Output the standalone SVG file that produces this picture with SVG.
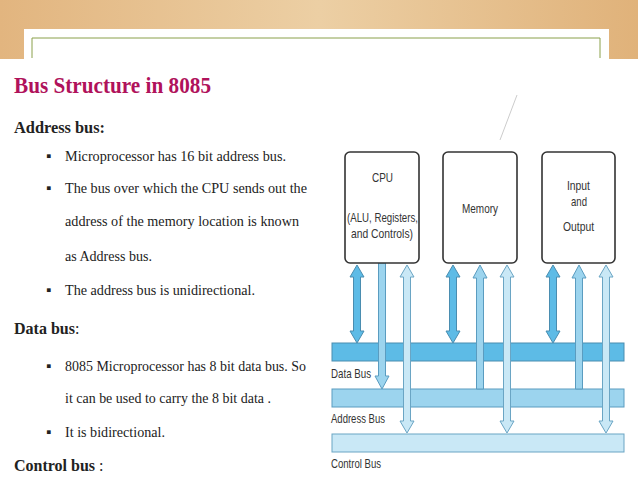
<svg xmlns="http://www.w3.org/2000/svg" width="638" height="478" viewBox="0 0 638 478">
<defs>
<linearGradient id="wood" x1="0" y1="0" x2="1" y2="0"><stop offset="0" stop-color="#e2b57f"/><stop offset="0.5" stop-color="#eccfa4"/><stop offset="1" stop-color="#e0b27a"/></linearGradient>
<style>
.t{font-family:"Liberation Serif",serif;font-size:15px;fill:#222}
.h{font-family:"Liberation Serif",serif;font-size:16px;font-weight:bold;fill:#222}
.s{font-family:"Liberation Sans",sans-serif;font-size:13.5px;fill:#333}
.box{fill:#fff;stroke:#333;stroke-width:1.6}
.dk{fill:#5dbbe6;stroke:#4a8db0;stroke-width:1}
.lt{fill:#c9e8f6;stroke:#6aa5c4;stroke-width:1}
.md{fill:#9cd4ee;stroke:#5a9cc0;stroke-width:1}
</style>
</defs>
<rect width="638" height="60" fill="url(#wood)"/>
<rect x="24" y="29" width="585" height="40" fill="#fff"/>
<path d="M32,58 V38 H600 V58" fill="none" stroke="#8aa04a" stroke-width="1"/>
<rect x="0" y="59" width="638" height="419" fill="#fff"/>
<text x="14" y="93" font-family="Liberation Serif,serif" font-size="24" font-weight="bold" fill="#b0125b" textLength="197" lengthAdjust="spacingAndGlyphs">Bus Structure in 8085</text>
<text class="h" x="14" y="133" textLength="91" lengthAdjust="spacingAndGlyphs">Address bus:</text>
<g class="t">
<text x="46" y="161">▪</text><text x="65" y="161" textLength="221" lengthAdjust="spacingAndGlyphs">Microprocessor has 16 bit address bus.</text>
<text x="46" y="193">▪</text><text x="65" y="193" textLength="242" lengthAdjust="spacingAndGlyphs">The bus over which the CPU sends out the</text>
<text x="65" y="226" textLength="234" lengthAdjust="spacingAndGlyphs">address of the memory location is known</text>
<text x="65" y="261" textLength="87" lengthAdjust="spacingAndGlyphs">as Address bus.</text>
<text x="46" y="295">▪</text><text x="65" y="295" textLength="190" lengthAdjust="spacingAndGlyphs">The address bus is unidirectional.</text>
<text x="46" y="371">▪</text><text x="65" y="371" textLength="241" lengthAdjust="spacingAndGlyphs">8085 Microprocessor has 8 bit data bus. So</text>
<text x="65" y="403" textLength="206" lengthAdjust="spacingAndGlyphs">it can be used to carry the 8 bit data .</text>
<text x="46" y="437">▪</text><text x="65" y="437" textLength="100" lengthAdjust="spacingAndGlyphs">It is bidirectional.</text>
</g>
<text class="h" x="14" y="334" font-size="14.5">Data bus<tspan font-weight="normal">:</tspan></text>
<text class="h" x="14" y="471" font-size="14.5">Control bus <tspan font-weight="normal">:</tspan></text>
<line x1="500" y1="140" x2="517" y2="95" stroke="#ccc" stroke-width="1"/>
<g id="buses">
<rect class="dk" x="332" y="343" width="292" height="18"/>
<rect class="md" x="332" y="389" width="292" height="18"/>
<rect class="lt" x="332" y="434" width="292" height="18"/>
<text class="s" x="331" y="378" textLength="40" lengthAdjust="spacingAndGlyphs">Data Bus</text>
<text class="s" x="331" y="423" textLength="54" lengthAdjust="spacingAndGlyphs">Address Bus</text>
<text class="s" x="331" y="468" textLength="50" lengthAdjust="spacingAndGlyphs">Control Bus</text>
</g>
<g id="connectors">
<path class="dk" d="M357,265 l7,12 h-3.5 v54 h3.5 l-7,12 l-7,-12 h3.5 v-54 h-3.5 z"/>
<path class="md" d="M378.5,263 h7 v113 h3.5 l-7,13 l-7,-13 h3.5 z"/>
<path class="lt" d="M407,265 l7,12 h-3.5 v144 h3.5 l-7,12 l-7,-12 h3.5 v-144 h-3.5 z"/>
<path class="dk" d="M453,265 l7,12 h-3.5 v54 h3.5 l-7,12 l-7,-12 h3.5 v-54 h-3.5 z"/>
<path class="md" d="M480,265 l7,13 h-3.5 v111 h-7 v-111 h-3.5 z"/>
<path class="lt" d="M507,265 l7,12 h-3.5 v144 h3.5 l-7,12 l-7,-12 h3.5 v-144 h-3.5 z"/>
<path class="dk" d="M553,265 l7,12 h-3.5 v54 h3.5 l-7,12 l-7,-12 h3.5 v-54 h-3.5 z"/>
<path class="md" d="M579,265 l7,13 h-3.5 v111 h-7 v-111 h-3.5 z"/>
<path class="lt" d="M606,265 l7,12 h-3.5 v144 h3.5 l-7,12 l-7,-12 h3.5 v-144 h-3.5 z"/>
</g>
<g id="cpu"><rect class="box" x="345" y="152" width="74" height="111" rx="5"/>
<text class="s" x="372" y="182" textLength="21" lengthAdjust="spacingAndGlyphs">CPU</text>
<text class="s" x="347" y="222" textLength="71" lengthAdjust="spacingAndGlyphs">(ALU, Registers,</text>
<text class="s" x="351" y="238" textLength="62" lengthAdjust="spacingAndGlyphs">and Controls)</text></g>
<g id="memory"><rect class="box" x="443" y="152" width="74" height="111" rx="5"/>
<text class="s" x="462" y="213" textLength="36" lengthAdjust="spacingAndGlyphs">Memory</text></g>
<g id="io"><rect class="box" x="542" y="152" width="73" height="111" rx="5"/>
<text class="s" x="567" y="190" textLength="23" lengthAdjust="spacingAndGlyphs">Input</text>
<text class="s" x="571" y="206" textLength="16" lengthAdjust="spacingAndGlyphs">and</text>
<text class="s" x="563" y="231" textLength="31" lengthAdjust="spacingAndGlyphs">Output</text></g>
</svg>
